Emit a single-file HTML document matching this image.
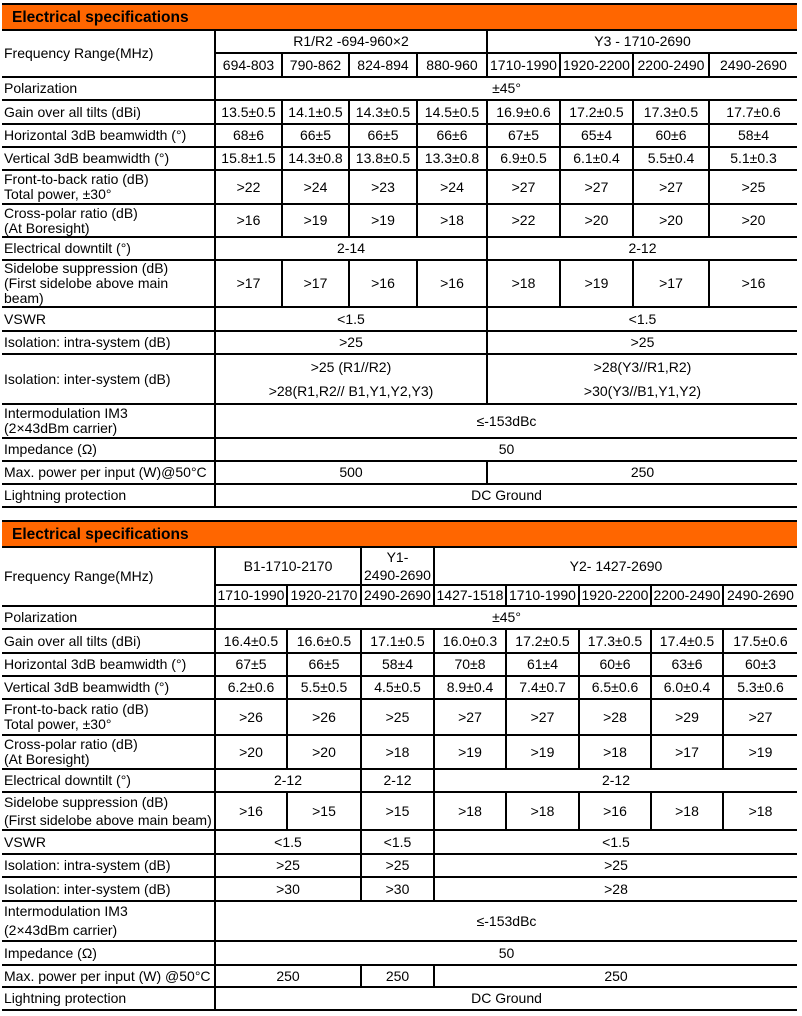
<!DOCTYPE html>
<html><head><meta charset="utf-8">
<style>
body{margin:0;background:#fff;width:802px;height:1016px;overflow:hidden;font-family:"Liberation Sans",Arial,sans-serif;color:#000}
table{position:absolute;left:2px;border-collapse:collapse;table-layout:fixed;width:795px;font-size:14px}
td{border:2px solid #000;padding:0;text-align:center;vertical-align:middle;line-height:15px;white-space:nowrap;overflow:hidden}
td.l{text-align:left;padding-left:2px}
tr>td:first-child{border-left:none}
tr>td:last-child{border-right:none}
td.bar{background:#FF6600;font-weight:bold;font-size:15.5px;text-align:left;padding-left:10px;border-left:none;border-right:none}
</style></head><body>
<table style="top:3px">
<colgroup><col style="width:213px"><col style="width:67px"><col style="width:67px"><col style="width:68px"><col style="width:70px"><col style="width:73px"><col style="width:73px"><col style="width:76px"><col style="width:88px"></colgroup>
<tr style="height:26px"><td class="bar" colspan="9">Electrical specifications</td></tr>
<tr style="height:23px"><td class="l" rowspan="2">Frequency Range(MHz)</td><td colspan="4">R1/R2 -694-960×2</td><td colspan="4">Y3 - 1710-2690</td></tr>
<tr style="height:24px"><td>694-803</td><td>790-862</td><td>824-894</td><td>880-960</td><td>1710-1990</td><td>1920-2200</td><td>2200-2490</td><td>2490-2690</td></tr>
<tr style="height:23px"><td class="l">Polarization</td><td colspan="8">±45°</td></tr>
<tr style="height:24px"><td class="l">Gain over all tilts (dBi)</td><td>13.5±0.5</td><td>14.1±0.5</td><td>14.3±0.5</td><td>14.5±0.5</td><td>16.9±0.6</td><td>17.2±0.5</td><td>17.3±0.5</td><td>17.7±0.6</td></tr>
<tr style="height:23px"><td class="l">Horizontal 3dB beamwidth (°)</td><td>68±6</td><td>66±5</td><td>66±5</td><td>66±6</td><td>67±5</td><td>65±4</td><td>60±6</td><td>58±4</td></tr>
<tr style="height:23px"><td class="l">Vertical 3dB beamwidth (°)</td><td>15.8±1.5</td><td>14.3±0.8</td><td>13.8±0.5</td><td>13.3±0.8</td><td>6.9±0.5</td><td>6.1±0.4</td><td>5.5±0.4</td><td>5.1±0.3</td></tr>
<tr style="height:34px"><td class="l">Front-to-back ratio (dB)<br>Total power, ±30°</td><td>&gt;22</td><td>&gt;24</td><td>&gt;23</td><td>&gt;24</td><td>&gt;27</td><td>&gt;27</td><td>&gt;27</td><td>&gt;25</td></tr>
<tr style="height:33px"><td class="l">Cross-polar ratio (dB)<br>(At Boresight)</td><td>&gt;16</td><td>&gt;19</td><td>&gt;19</td><td>&gt;18</td><td>&gt;22</td><td>&gt;20</td><td>&gt;20</td><td>&gt;20</td></tr>
<tr style="height:23px"><td class="l">Electrical downtilt (°)</td><td colspan="4">2-14</td><td colspan="4">2-12</td></tr>
<tr style="height:47px"><td class="l">Sidelobe suppression (dB)<br>(First sidelobe above main<br>beam)</td><td>&gt;17</td><td>&gt;17</td><td>&gt;16</td><td>&gt;16</td><td>&gt;18</td><td>&gt;19</td><td>&gt;17</td><td>&gt;16</td></tr>
<tr style="height:24px"><td class="l">VSWR</td><td colspan="4">&lt;1.5</td><td colspan="4">&lt;1.5</td></tr>
<tr style="height:23px"><td class="l">Isolation: intra-system (dB)</td><td colspan="4">&gt;25</td><td colspan="4">&gt;25</td></tr>
<tr style="height:50px"><td class="l">Isolation: inter-system (dB)</td><td colspan="4" style="line-height:24px">&gt;25 (R1//R2)<br>&gt;28(R1,R2// B1,Y1,Y2,Y3)</td><td colspan="4" style="line-height:24px">&gt;28(Y3//R1,R2)<br>&gt;30(Y3//B1,Y1,Y2)</td></tr>
<tr style="height:34px"><td class="l">Intermodulation IM3<br>(2×43dBm carrier)</td><td colspan="8">≤-153dBc</td></tr>
<tr style="height:23px"><td class="l">Impedance (Ω)</td><td colspan="8">50</td></tr>
<tr style="height:23px"><td class="l">Max. power per input (W)@50°C</td><td colspan="4">500</td><td colspan="4">250</td></tr>
<tr style="height:23px"><td class="l">Lightning protection</td><td colspan="8">DC Ground</td></tr>
</table>

<table style="top:520px">
<colgroup><col style="width:213px"><col style="width:72px"><col style="width:74px"><col style="width:73px"><col style="width:72px"><col style="width:73px"><col style="width:72px"><col style="width:72px"><col style="width:74px"></colgroup>
<tr style="height:26px"><td class="bar" colspan="9">Electrical specifications</td></tr>
<tr style="height:37px"><td class="l" rowspan="2">Frequency Range(MHz)</td><td colspan="2">B1-1710-2170</td><td style="line-height:18px">Y1-<br>2490-2690</td><td colspan="5">Y2- 1427-2690</td></tr>
<tr style="height:21px"><td>1710-1990</td><td>1920-2170</td><td>2490-2690</td><td>1427-1518</td><td>1710-1990</td><td>1920-2200</td><td>2200-2490</td><td>2490-2690</td></tr>
<tr style="height:23px"><td class="l">Polarization</td><td colspan="8">±45°</td></tr>
<tr style="height:24px"><td class="l">Gain over all tilts (dBi)</td><td>16.4±0.5</td><td>16.6±0.5</td><td>17.1±0.5</td><td>16.0±0.3</td><td>17.2±0.5</td><td>17.3±0.5</td><td>17.4±0.5</td><td>17.5±0.6</td></tr>
<tr style="height:23px"><td class="l">Horizontal 3dB beamwidth (°)</td><td>67±5</td><td>66±5</td><td>58±4</td><td>70±8</td><td>61±4</td><td>60±6</td><td>63±6</td><td>60±3</td></tr>
<tr style="height:23px"><td class="l">Vertical 3dB beamwidth (°)</td><td>6.2±0.6</td><td>5.5±0.5</td><td>4.5±0.5</td><td>8.9±0.4</td><td>7.4±0.7</td><td>6.5±0.6</td><td>6.0±0.4</td><td>5.3±0.6</td></tr>
<tr style="height:36px"><td class="l">Front-to-back ratio (dB)<br>Total power, ±30°</td><td>&gt;26</td><td>&gt;26</td><td>&gt;25</td><td>&gt;27</td><td>&gt;27</td><td>&gt;28</td><td>&gt;29</td><td>&gt;27</td></tr>
<tr style="height:34px"><td class="l">Cross-polar ratio (dB)<br>(At Boresight)</td><td>&gt;20</td><td>&gt;20</td><td>&gt;18</td><td>&gt;19</td><td>&gt;19</td><td>&gt;18</td><td>&gt;17</td><td>&gt;19</td></tr>
<tr style="height:23px"><td class="l">Electrical downtilt (°)</td><td colspan="2">2-12</td><td>2-12</td><td colspan="5">2-12</td></tr>
<tr style="height:38px"><td class="l" style="line-height:18px">Sidelobe suppression (dB)<br>(First sidelobe above main beam)</td><td>&gt;16</td><td>&gt;15</td><td>&gt;15</td><td>&gt;18</td><td>&gt;18</td><td>&gt;16</td><td>&gt;18</td><td>&gt;18</td></tr>
<tr style="height:24px"><td class="l">VSWR</td><td colspan="2">&lt;1.5</td><td>&lt;1.5</td><td colspan="5">&lt;1.5</td></tr>
<tr style="height:23px"><td class="l">Isolation: intra-system (dB)</td><td colspan="2">&gt;25</td><td>&gt;25</td><td colspan="5">&gt;25</td></tr>
<tr style="height:24px"><td class="l">Isolation: inter-system (dB)</td><td colspan="2">&gt;30</td><td>&gt;30</td><td colspan="5">&gt;28</td></tr>
<tr style="height:38px"><td class="l" style="line-height:19px">Intermodulation IM3<br>(2×43dBm carrier)</td><td colspan="8">≤-153dBc</td></tr>
<tr style="height:24px"><td class="l">Impedance (Ω)</td><td colspan="8">50</td></tr>
<tr style="height:22px"><td class="l">Max. power per input (W) @50°C</td><td colspan="2">250</td><td>250</td><td colspan="5">250</td></tr>
<tr style="height:23px"><td class="l">Lightning protection</td><td colspan="8">DC Ground</td></tr>
</table>
</body></html>
